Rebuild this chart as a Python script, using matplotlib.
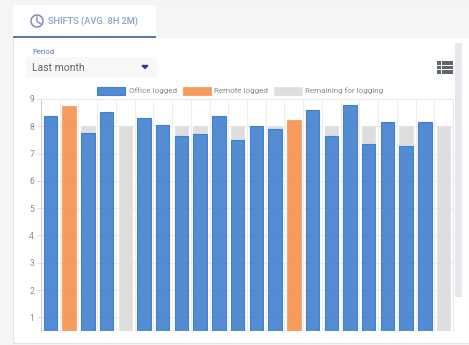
import numpy as np
import matplotlib
matplotlib.use("Agg")
import matplotlib.pyplot as plt
from matplotlib.patches import Rectangle, Circle

plt.rcParams['font.family'] = ['Roboto', 'DejaVu Sans']

# 読み取った値
office = [8.37, 0, 7.76, 8.51, 0, 8.32, 8.06, 7.63, 7.70, 8.37, 7.49,
          8.00, 7.90, 0, 8.59, 7.63, 8.77, 7.34, 8.17, 7.27, 8.15, 0]
remote = [0, 8.73, 0, 0, 0, 0, 0, 0, 0, 0, 0,
          0, 0, 8.24, 0, 0, 0, 0, 0, 0, 0, 0]
target = 8
y_ticks = [1, 2, 3, 4, 5, 6, 7, 8, 9]
legend_labels = ["Office logged", "Remote logged", "Remaining for logging"]
tab_title = "SHIFTS (AVG. 8H 2M)"
period_label = "Period"
period_value = "Last month"

W, H = 469, 345
fig = plt.figure(figsize=(W / 100, H / 100), dpi=100, facecolor="#ffffff")

# 枠 (ピクセル座標)
bg = fig.add_axes([0, 0, 1, 1])
bg.set_xlim(0, W)
bg.set_ylim(H, 0)
bg.axis("off")
bg.add_patch(Rectangle((0, 0), W, H, fc="#f5f5f5", ec="none"))
bg.add_patch(Rectangle((13, 5), W - 13, 338, fc="#ffffff", ec="#e4e4e4", lw=0.8))
bg.add_patch(Rectangle((13, 5), W - 13, 33, fc="#f5f5f5", ec="none"))
bg.add_patch(Rectangle((13, 5), 143, 31, fc="#ffffff", ec="none"))
bg.add_patch(Rectangle((13, 36), 143, 1.7, fc="#5a78ae", ec="none"))
bg.add_patch(Circle((37, 21), 6, fc="none", ec="#7a90bd", lw=1.1))
bg.plot([37, 37, 41], [17, 21.5, 24], color="#7a90bd", lw=1.0)
bg.text(48.5, 21.5, tab_title, fontsize=6.7, color="#8ea0c6", va="center", weight="medium")
bg.text(32, 52, period_label, fontsize=5.5, color="#5a72ae", va="center")
bg.add_patch(Rectangle((26, 57), 131, 21, fc="#f8f8f8", ec="none"))
bg.text(32, 68, period_value, fontsize=7.5, color="#666666", va="center")
bg.fill([142, 148, 145], [65.5, 65.5, 68.5], color="#2a3f80")
for y0 in (61, 65.6, 70.2):
    bg.add_patch(Rectangle((437, y0), 4, 3.8, fc="#5f666d", ec="none"))
    bg.add_patch(Rectangle((441.8, y0), 10.8, 3.8, fc="#5f666d", ec="none"))
bg.add_patch(Rectangle((455, 43), 7, 254, fc="#e6e7ec", ec="none"))

# グラフ本体
ax = fig.add_axes([41 / W, 1 - 331 / H, 412 / W, 232 / H], facecolor="none")
x = np.arange(len(office))
office = np.array(office)
remote = np.array(remote)
logged = office + remote
remaining = np.maximum(target - logged, 0)

ax.bar(x, office, width=0.72, color="#4482cf", alpha=0.92, edgecolor="#3a7bcd", linewidth=0.8,
       label=legend_labels[0], zorder=3)
ax.bar(x, remote, width=0.72, color="#f79250", alpha=0.92, edgecolor="#f7a470", linewidth=0.8,
       label=legend_labels[1], zorder=3)
ax.bar(x, remaining, width=0.72, bottom=logged, color="#dedede", edgecolor="#e2e2e2", linewidth=0.6,
       label=legend_labels[2], zorder=2)

ax.set_xlim(-0.5, len(office) - 0.5)
ax.set_ylim(0.5, 9)
ax.set_yticks(y_ticks)
ax.set_xticks(x[:-1] + 0.5)
ax.set_xticklabels([])
ax.tick_params(axis="y", labelsize=6.2, labelcolor="#8a8a8a", length=3, color="#dddddd", width=0.7, pad=2)
ax.tick_params(axis="x", length=0)
ax.grid(True, color="#ededed", lw=0.7, zorder=1)
for s in ("top", "right", "left"):
    ax.spines[s].set_color("#e8e8e8")
    ax.spines[s].set_linewidth(0.7)
ax.spines["left"].set_color("#cccccc")
ax.spines["bottom"].set_visible(False)

ax.legend(loc="lower center", bbox_to_anchor=(0.484, 1.0), ncol=3, frameon=False, fontsize=5.8,
          labelcolor="#8a8a8a", handlelength=3.5, handleheight=1.1, handletextpad=0.4,
          columnspacing=0.75, borderaxespad=0.55, borderpad=0)

fig.savefig("out.png", dpi=100)
